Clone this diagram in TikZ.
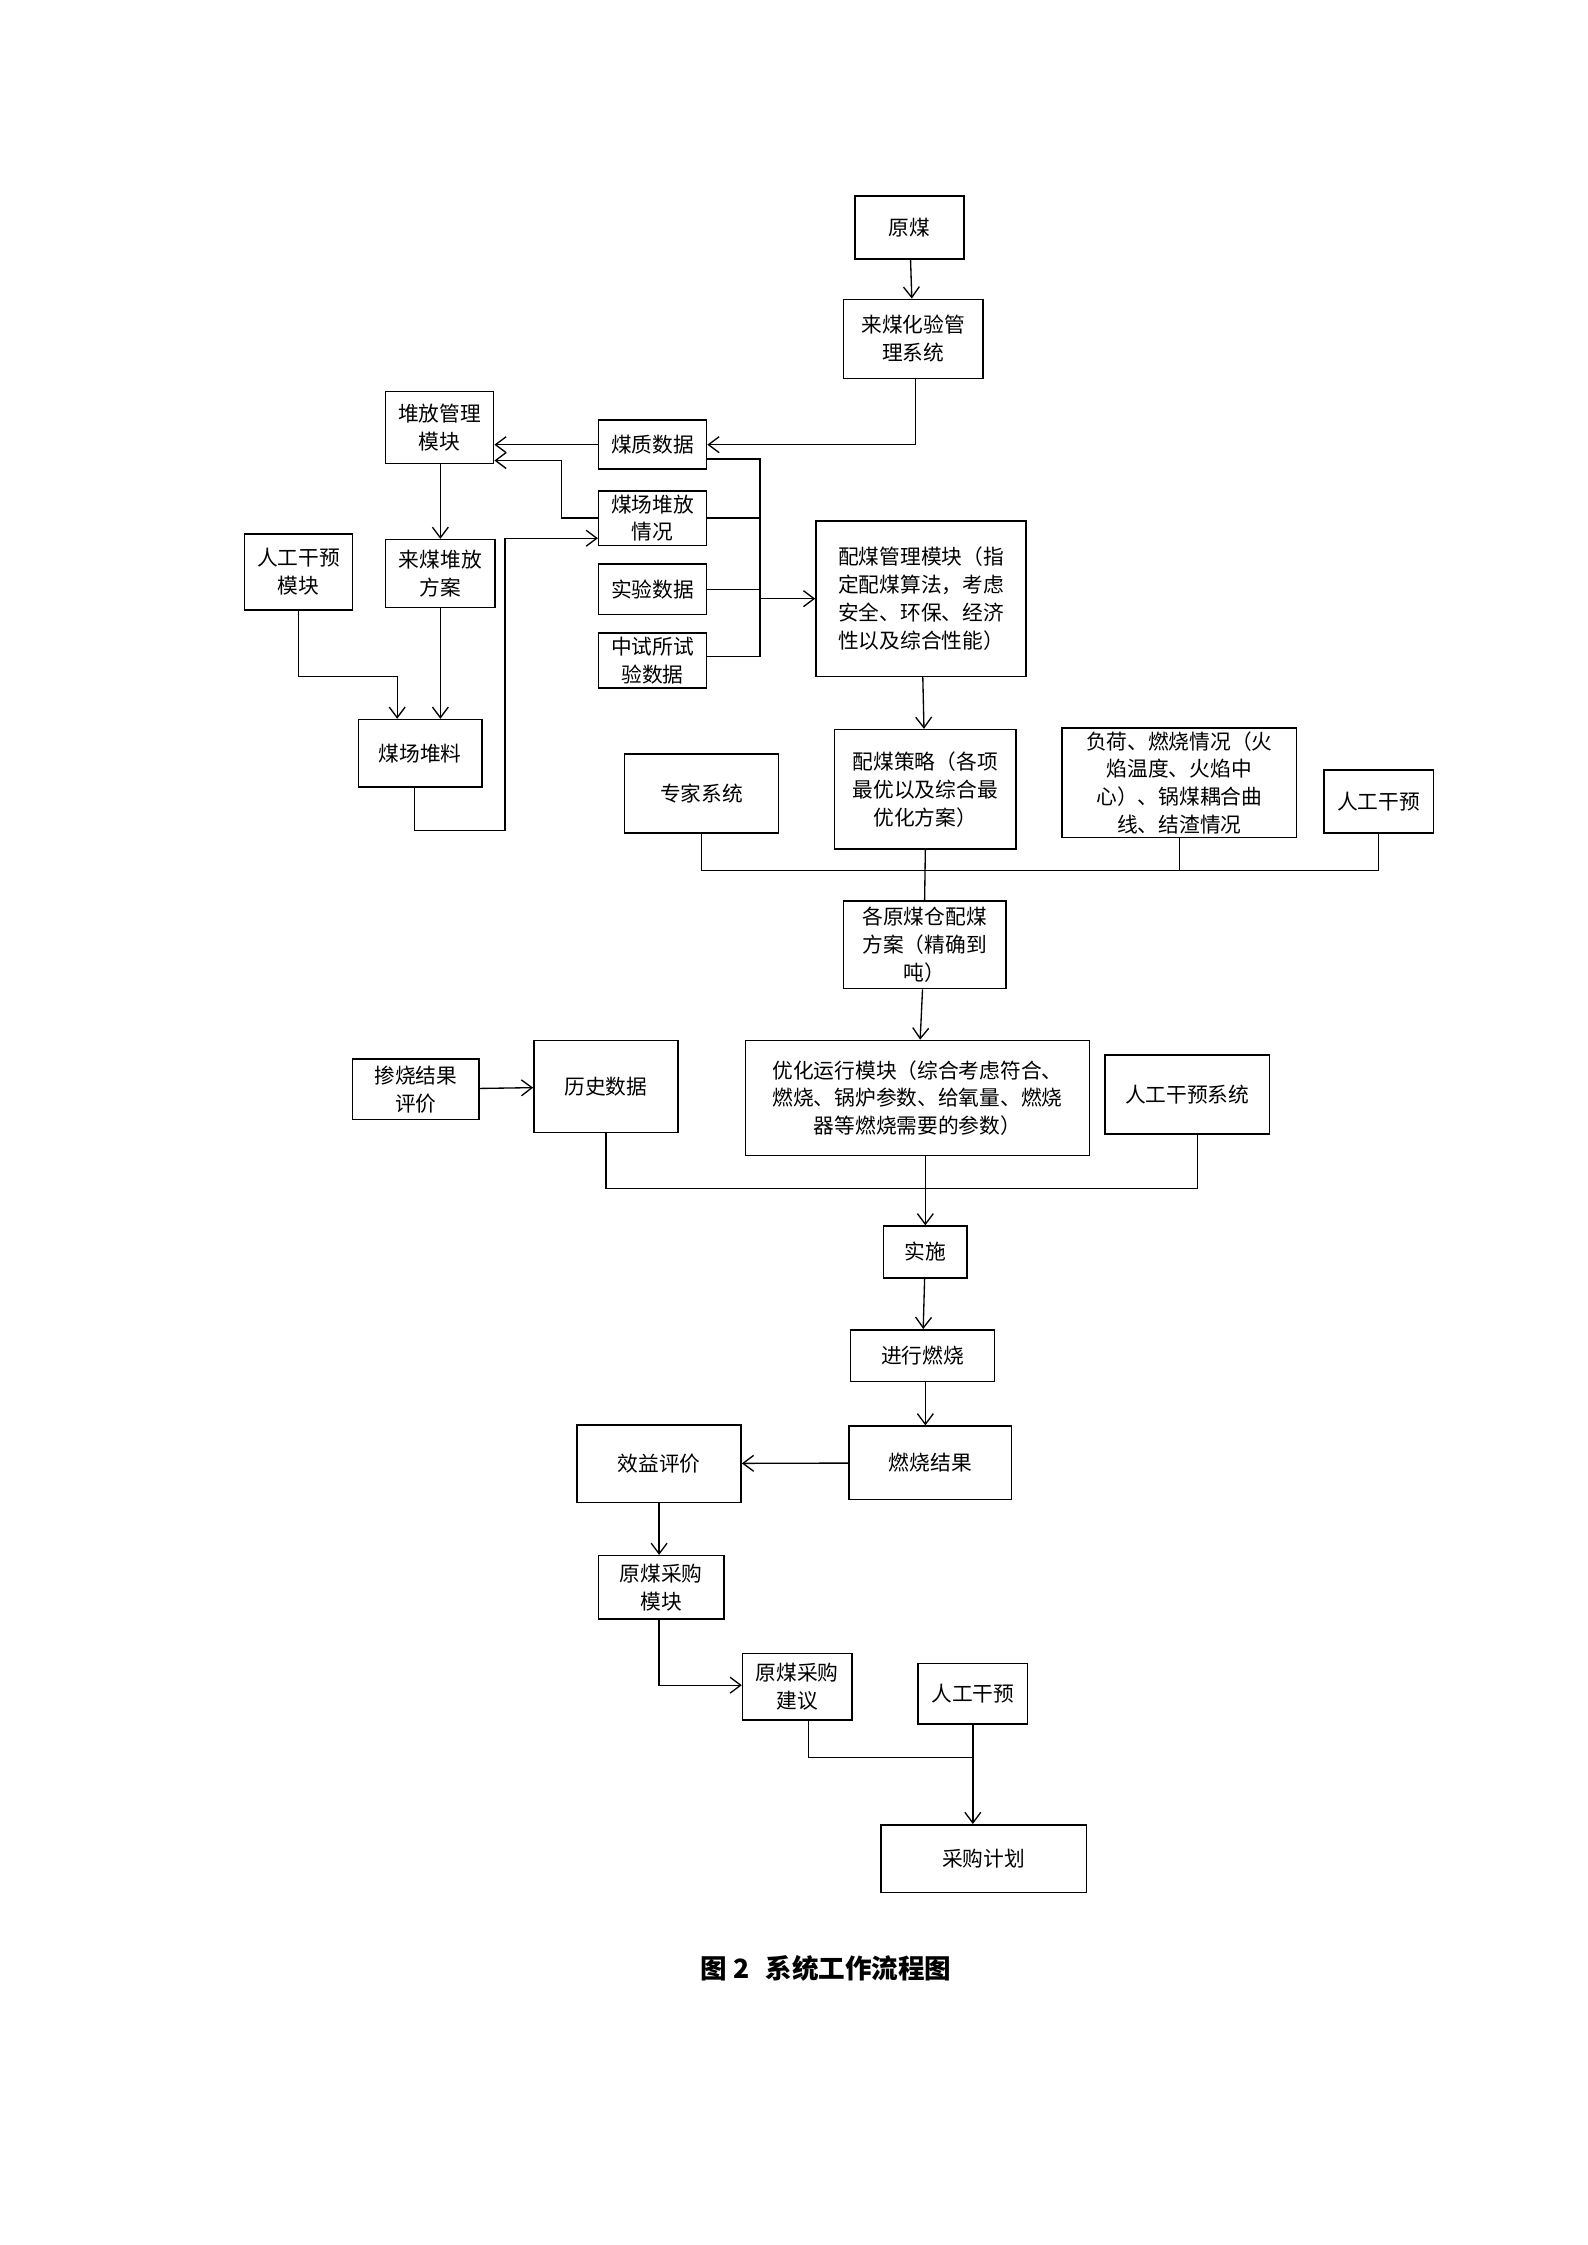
\documentclass[tikz,border=0pt]{standalone}
\usepackage{fontspec}
\newfontfamily\cjk{Noto Sans CJK SC}
\usetikzlibrary{arrows.meta}
\newcommand\mybox[6]{\node[bx,minimum width={(#4-#2)*0.01904cm},minimum height={(#5-#3)*0.01904cm}] (#1) at ({(#2+#4)/2},{(#3+#5)/2}) {#6};}
\begin{document}
\begin{tikzpicture}[x=0.01904cm,y=-0.01904cm,
  bx/.style={draw,line width=0.6pt,inner sep=0pt,align=center,font=\cjk\fontsize{7.8}{10.5}\selectfont},
  ar/.style={-{Straight Barb[length=4pt,width=6pt]},line width=0.5pt},
  ln/.style={line width=0.5pt}]
\useasboundingbox (0,0) rectangle (1103,1560);
\mybox{yuanmei}{594}{136}{670}{180}{原煤}
\mybox{hy}{586}{208}{683}{263}{来煤化验管\\理系统}
\mybox{dfgl}{268}{272}{343}{322}{堆放管理\\模块}
\mybox{mz}{416}{292}{491}{326}{煤质数据}
\mybox{mc}{416}{341}{491}{379}{煤场堆放\\情况}
\mybox{sy}{416}{392}{491}{427}{实验数据}
\mybox{zs}{416}{440}{491}{478}{中试所试\\验数据}
\mybox{pmgl}{567}{362}{713}{470}{配煤管理模块（指\\定配煤算法，考虑\\安全、环保、经济\\性以及综合性能）}
\mybox{rgm}{170}{371}{245}{424}{人工干预\\模块}
\mybox{lmfa}{268}{375}{344}{422}{来煤堆放\\方案}
\mybox{mcdl}{249}{500}{335}{547}{煤场堆料}
\mybox{pmcl}{580}{507}{706}{590}{配煤策略（各项\\最优以及综合最\\优化方案）}
\mybox{fh}{738}{506}{901}{582}{负荷、燃烧情况（火\\焰温度、火焰中\\心）、锅煤耦合曲\\线、结渣情况}
\mybox{zj}{434}{524}{541}{579}{专家系统}
\mybox{rg1}{920}{535}{996}{579}{人工干预}
\mybox{gyc}{586}{626}{699}{687}{各原煤仓配煤\\方案（精确到\\吨）}
\mybox{cs}{245}{736}{333}{778}{掺烧结果\\评价}
\mybox{ls}{371}{723}{471}{787}{历史数据}
\mybox{yh}{518}{723}{757}{803}{优化运行模块（综合考虑符合、\\燃烧、锅炉参数、给氧量、燃烧\\器等燃烧需要的参数）}
\mybox{rgxt}{768}{733}{882}{788}{人工干预系统}
\mybox{ss}{614}{852}{672}{888}{实施}
\mybox{jx}{591}{924}{691}{960}{进行燃烧}
\mybox{xy}{401}{990}{515}{1044}{效益评价}
\mybox{rs}{590}{991}{703}{1042}{燃烧结果}
\mybox{cgmk}{416}{1081}{503}{1125}{原煤采购\\模块}
\mybox{cgjy}{516}{1149}{592}{1195}{原煤采购\\建议}
\mybox{rg2}{638}{1156}{714}{1198}{人工干预}
\mybox{cgjh}{612}{1268}{755}{1315}{采购计划}
\node[font=\cjk\bfseries\fontsize{10}{12}\selectfont] (cap) at (574,1368) {图 2\hspace{0.6em}系统工作流程图};
% top part
\draw[ar] (yuanmei) -- (hy);
\draw[ar] (hy.south -| 636,0) |- (mz.east);
\draw[ar] (mz.west) -- (dfgl.east |- mz.west);
\draw[ar] (mc.west) -- (390,360) -- (390,320) -- (dfgl.east |- 0,320);
\draw[ar] (dfgl.south -| 306,0) -- (lmfa.north -| 306,0);
\draw[ar] (rgm.south) |- (276,470) -- (mcdl.north -| 276,0);
\draw[ar] (lmfa.south -| 306,0) -- (mcdl.north -| 306,0);
\draw[ar] (mcdl.south -| 288,0) -- (288,577) -- (351,577) -- (351,374) -- (mc.west |- 0,374);
\coordinate (bus) at (528,416);
\draw[ln] (mz.east |- 0,319) -| (528,456) -- (zs.east |- 0,456);
\draw[ln] (mc.east) -- (mc.east -| bus);
\draw[ln] (sy.east) -- (sy.east -| bus);
\draw[ar] (bus) -- (pmgl.west |- bus);
\draw[ar] (pmgl) -- (pmcl);
% middle bus
\coordinate (b1) at (643,605);
\draw[ln] (zj.south) |- (b1) -| (rg1.south);
\draw[ln] (fh.south) -- (fh.south |- b1);
\draw[ln] (pmcl.south) -- (gyc.north);
\draw[ar] (gyc) -- (yh);
\draw[ar] (cs) -- (ls);
\coordinate (b2) at (643,826);
\draw[ln] (ls.south) |- (b2) -| (rgxt.south -| 832,0);
\draw[ar] (yh.south -| b2) -- (ss.north -| b2);
\draw[ar] (ss) -- (jx);
\draw[ar] (jx.south -| 643,0) -- (rs.north -| 643,0);
\draw[ar] (rs) -- (xy);
\draw[ar] (xy.south -| 458,0) -- (cgmk.north -| 458,0);
\draw[ar] (cgmk.south -| 458,0) |- (cgjy.west |- 0,1171);
\coordinate (b3) at (676,1221);
\draw[ln] (cgjy.south -| 562,0) |- (b3);
\draw[ar] (rg2.south -| b3) -- (cgjh.north -| b3);
\end{tikzpicture}
\end{document}
